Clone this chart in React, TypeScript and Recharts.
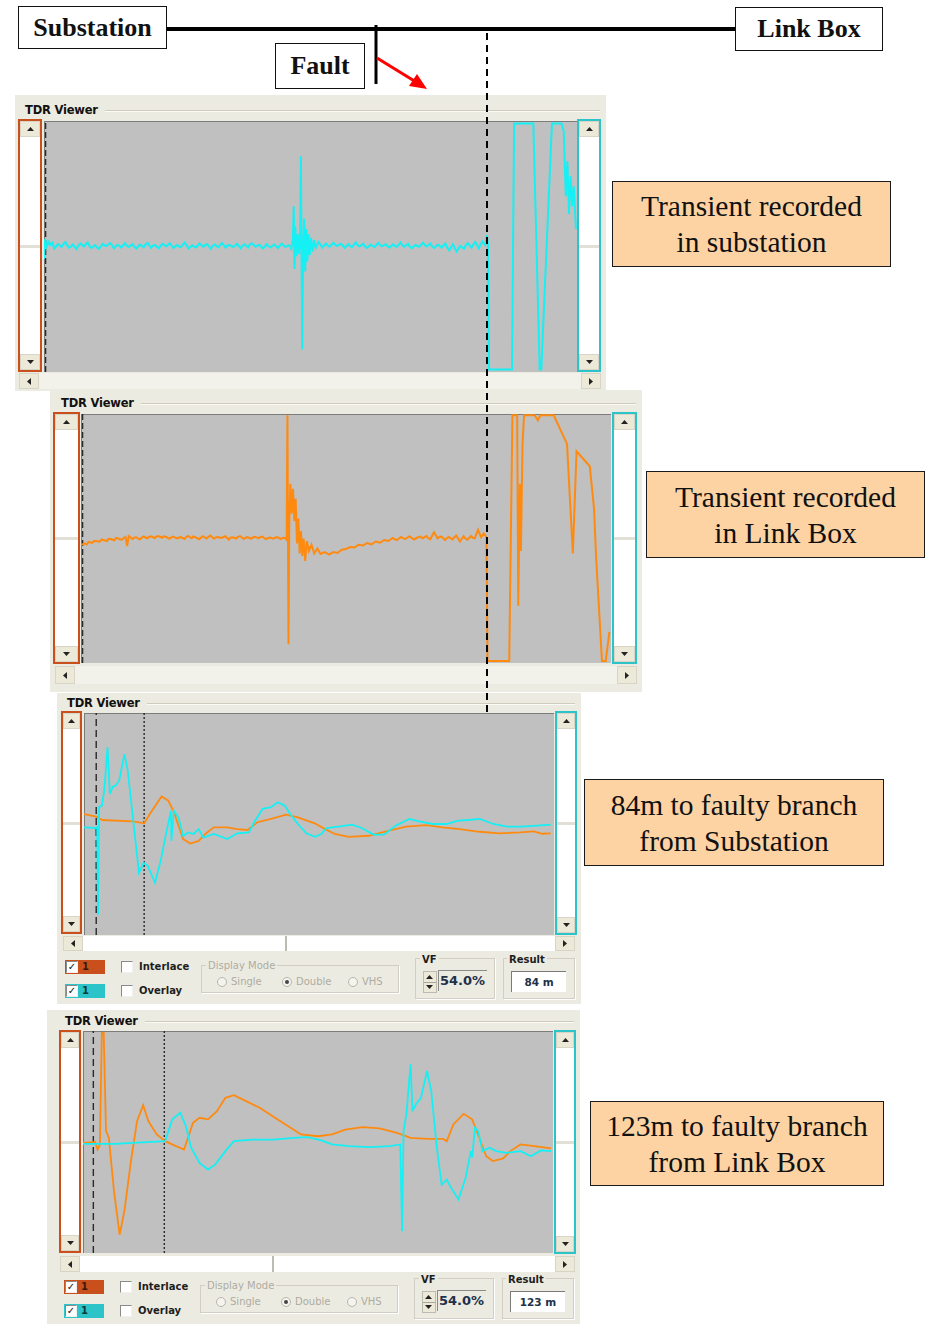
import React from 'react';
import { LineChart, Line, XAxis, YAxis, ReferenceLine } from 'recharts';

type Pt = [number, number];

// ---- waveform values: [time % of window, amplitude % of window height] ----
const P1_CYAN: Pt[] = [
  [0,45],[0.2,53],[0.5,50],[0.9,51.9],[1.2,50.6],[1.6,51.5],[1.9,49.2],[2.3,50.1],[2.6,51],[3.3,49.8],[3.6,50.9],[4,51.8],[4.4,50.3],[4.7,49.5],[5.1,50.1],[5.4,50.8],[6.1,49],[6.4,50.2],[6.8,51.2],[7.5,50],[7.8,50.8],[8.2,51.6],[8.6,49.9],[8.9,49.4],[9.6,50.6],[9.9,49.7],[10.3,49.1],[11,51],[11.4,50.4],[11.7,50.2],[12.4,51.4],[12.8,50.5],[13.1,49.3],[13.8,50.7],[14.2,50.2],[14.5,49.6],[15.2,51.3],[15.5,50.4],[15.9,49.8],[16.6,50.9],[16.9,50.1],[17.3,49.2],[18,50.8],[18.7,49.7],[19,50.6],[19.4,51.5],[20.1,49.5],[20.4,50.3],[20.8,50.6],[21.5,49.3],[22.2,51.1],[22.6,50.6],[22.9,50],[23.6,51.3],[24,50.2],[24.3,49.4],[25,50.7],[25.4,49.9],[25.7,49.8],[26.4,51.6],[26.8,50.3],[27.1,49.2],[27.8,50.5],[28.1,50],[28.5,49.6],[29.2,51.2],[29.9,49.9],[30.2,50.6],[30.6,51],[31.3,49.1],[31.6,50.1],[32,50.8],[32.7,49.7],[33,50.5],[33.4,51.4],[34.1,49.5],[34.4,50.4],[34.8,50.6],[35.5,49.8],[35.8,50.3],[36.2,51.1],[36.9,49.3],[37.2,50.2],[37.6,50.9],[38.3,49.6],[38.6,50.7],[39,51.3],[39.7,49.9],[40.4,50.7],[40.7,50],[41.1,49.2],[41.8,51],[42.1,50.2],[42.5,49.7],[43.2,50.8],[43.6,50],[43.9,49.4],[44.6,51.2],[45,50.3],[45.3,49.8],[46,50.6],
  [46.4,49],[46.7,53],[46.85,66],[47,41],[47.15,58],[47.35,46],[47.6,55],[47.85,47],[48.05,53],[48.2,86],[48.3,52],[48.45,9],[48.6,46],[48.8,61],[49,40],[49.2,57],[49.4,44],[49.6,55],[49.85,46.5],[50.1,53.5],[50.4,48],[50.7,52.5],[51,49.5],
  [51.5,51.8],[51.9,50.7],[52.2,49.6],[52.9,51.2],[53.2,50.4],[53.6,49.9],[54.3,51.5],[54.6,50.8],[55,50.2],[55.7,51.1],[56,50.5],[56.4,49.5],[57.1,50.9],[57.4,50.2],[57.8,49.8],[58.5,51.7],[58.8,50.6],[59.2,50],[59.9,51.2],[60.2,50.1],[60.6,49.4],[61.3,50.8],[61.6,50.3],[62,49.7],[62.7,51.4],[63,50.7],[63.4,50.1],[64.1,51],[64.4,50.2],[64.8,49.5],[65.5,50.9],[65.8,50.3],[66.2,49.8],[66.9,51.6],[67.2,50.6],[67.6,49.9],[68.3,51.1],[68.6,50],[69,49.3],[69.7,50.7],[70,50.2],[70.4,49.9],[71.1,51.5],[71.4,50.7],[71.8,50],[72.5,51.2],[72.8,50.1],[73.2,49.4],[73.9,50.8],[74.2,50.3],[74.6,49.6],[75.3,51.3],[75.6,49.8],[76,48.5],[76.7,50.9],[77,49.6],[77.4,48],[78.1,50.2],[78.8,49.1],[79.1,50.4],[79.5,51.4],[80.2,49.5],[80.5,50.6],[80.9,51.8],[81.6,49.2],[81.9,50.8],[82.3,52],[82.8,50.5],[83.1,54.5],[83.3,51],
  [83.5,1],[87.8,1],[88.2,99],[91.8,99],[93,1],[93.3,1],[95.3,99],[97.1,99],[97.5,96],[97.9,70],[98.2,84],[98.5,63],[98.8,78],[99.1,66],[99.4,74],[99.8,57],
];

const P2_ORANGE: Pt[] = [
  [0,47.5],[0.7,48],[1.1,47.6],[1.4,48.6],[2.1,48.2],[2.4,48.9],[2.8,49],[3.5,48.7],[3.9,49.6],[4.2,49.4],[4.9,49],[5.2,49.9],[5.6,49.8],[6.3,49.3],[6.6,50.2],[7,50],[7.7,49.5],[8.1,50.3],[8.4,50.6],[8.7,47],[9,51],[9.7,49.8],[10,50.3],[10.4,50.5],[11.1,49.6],[11.5,50.4],[11.8,50.8],[12.5,50.1],[12.8,50.6],[13.2,50.9],[13.9,50.2],[14.2,50.7],[14.6,51],[15.3,50.3],[15.6,50.9],[16,50.7],[16.7,49.9],[17,50.4],[17.4,50.8],[18.1,50],[18.4,50.3],[18.8,50.6],[19.5,49.8],[19.8,50.5],[20.2,51],[20.9,50.1],[21.2,50.8],[21.6,50.5],[22.3,49.7],[22.6,50.3],[23,50.9],[23.7,50],[24,50.6],[24.4,51.2],[25.1,49.9],[25.4,50.4],[25.8,50.6],[26.5,50.2],[26.8,50.5],[27.2,50.9],[27.9,49.6],[28.2,50.3],[28.6,50.5],[29.3,50],[29.6,50.7],[30,51],[30.7,49.8],[31,50.2],[31.4,50.6],[32.1,49.9],[32.4,50.4],[32.8,50.7],[33.5,50.1],[33.8,50.5],[34.2,50.8],[34.9,49.7],[35.2,50.1],[35.6,50.4],[36.3,49.9],[36.6,50.3],[37,50.6],[37.7,49.8],[38,50.2],[38.4,50.3],[38.8,49.5],
  [38.95,99.5],[39.05,50],[39.15,7.5],[39.3,56],[39.5,72],[39.75,60],[40,70],[40.25,57],[40.5,66],[40.75,48],[41,58],[41.25,44],[41.5,53],[41.75,43],[42,50],[42.3,41],[42.6,49],[43,45],[43.5,47.5],[44,44],[44.6,46],[45.2,43.8],[46,44.5],[46.8,43.5],[47.6,44.6],[48.4,44.2],[49.2,45.5],[50,45.8],[50.8,46.6],[51.6,46.4],[52.4,47.5],[53.2,47.2],[54,48.2],[54.8,47.6],[55.6,48.8],[56.4,48.3],[57.2,49.4],[58,49],[58.8,50.2],[59.2,49.7],[59.6,49.4],[60.4,50.6],[60.8,50.1],[61.2,49.8],[62,50.9],[62.4,50.2],[62.8,49.6],[63.6,50.5],[64,50.8],[64.4,50.1],[65.2,51],[65.5,50.2],[65.9,49.7],[66.6,52.5],[67.3,50],[67.6,50.6],[68,50.8],[68.7,49.4],[69,50.1],[69.4,50.6],[70.1,49.6],[70.4,50.4],[70.8,51.2],[71.5,48.8],[72.2,50.9],[72.5,50.1],[72.9,49.5],[73.6,51],[73.9,50.3],[74.3,50.1],[74.9,53.5],[75.5,50.5],[76,52],[76.5,50.5],
  [76.7,0.8],[80.8,0.8],[81.4,99.5],[82.3,99.5],[82.5,23],[82.8,72],[83,45],[83.3,88],[83.6,99.5],[85.6,99.5],[86.2,97.5],[86.7,99.5],[89.2,99.5],[91.7,88],[92.8,44],[93.5,85],[96,79],[96.8,62],[97.2,42],[98.3,0.8],[99,0.8],[99.7,12.5],
];

const P3_ORANGE: Pt[] = [
  [0,54.5],[2.65,53.3],[3.9,51.8],[10.4,51.2],[12.8,50.3],[14,54.5],[16.5,62.4],[17.9,60.6],[19,56],[21.1,43.2],[22.6,41.2],[24.4,42.4],[25.8,45.5],[27.6,48.5],[30.5,48.5],[32.6,47.7],[34.8,47.3],[36.9,50.8],[39.8,52.3],[43,54.2],[45.5,53],[49.1,50.3],[51.3,47.7],[53.4,45.5],[56.3,44.2],[60.6,44.7],[64.9,47],[68.5,48.8],[72.8,49.5],[76.3,48.5],[79.9,47.7],[84.2,46.5],[88.5,45.8],[92.8,46.2],[95.7,46.7],[97.5,45.6],[99.3,45.8],
];

const P3_CYAN: Pt[] = [
  [0,48.5],[2.4,48.2],[2.8,48.5],[3,9.1],[3.2,57.6],[3.8,58.3],[4.3,65],[5,84.5],[5.5,63.6],[6.1,66.7],[6.8,67.4],[7.5,69.7],[8.6,81.5],[9.3,74.2],[10.4,53],[11.7,28],[12.7,32.6],[13.6,31],[15.1,23.5],[16.3,33.3],[17.6,47],[18.5,56],[18.6,42.4],[19.1,56],[20.1,53],[21.1,44.7],[22.2,46.2],[23.3,45.5],[24.4,47.7],[25.4,43.9],[27.6,45.5],[30.5,43.2],[32.6,45.8],[35.1,46.2],[36.2,50.8],[38,56.8],[39.8,57.6],[41.2,59.8],[42.7,58.3],[44.1,53.8],[45.5,50],[47.3,45.8],[49.1,44.2],[50.5,45.5],[51.6,48.2],[54.1,48.8],[57,49.7],[59.1,48.2],[61.6,45.2],[63.8,45.2],[66.3,49.2],[69.2,52.3],[71.3,51.2],[74.2,50],[77.1,50],[79.6,51.5],[81.7,51.8],[84.2,52.3],[87.1,50],[90,48.8],[92.8,48.8],[95.7,49.2],[99.3,49.7],
];

const P4_ORANGE: Pt[] = [
  [0,49.6],[2.6,50],[3.1,46.6],[3.6,48.9],[4,99.2],[4.4,99.2],[4.9,55],[5.5,51.9],[6.6,27.8],[7.8,8.3],[8.8,18.8],[10.2,41.4],[11.5,59.4],[12.8,66.6],[13.9,59.4],[15.7,53.4],[17.5,50.4],[19.3,48.6],[21.5,46.6],[23.4,58.6],[24.8,60.9],[26.6,60.2],[28.5,63.9],[30.3,69.9],[32.1,71.1],[34.7,68.4],[37.6,65.4],[42,59.4],[46.4,53.4],[50,52.6],[53,53.4],[55.8,55.6],[59.5,56.7],[63.1,56.1],[66.8,54.1],[69.7,51.9],[73.4,51.4],[76.6,51.4],[77.4,50.4],[78.8,57.9],[81,62.7],[82.8,60.2],[84.3,51.9],[85.8,43.6],[87.2,41.4],[89.4,42.6],[90.9,45.9],[93.1,48.9],[96,48.1],[99.6,47.1],
];

const P4_CYAN: Pt[] = [
  [0,49.2],[6.9,49.2],[10.6,49.6],[17.5,50.4],[19,60.2],[20.7,63.2],[21.9,57.1],[23,47.4],[24.8,40.6],[26.6,37.6],[28.1,39.8],[30.3,45.9],[32.1,50.4],[36.1,51.1],[40.5,51.1],[44.9,51.9],[47.8,52.2],[50.7,50.7],[53,48.9],[56.6,48.1],[60.9,47.7],[65.3,48.1],[67.5,48.9],[67.9,9.8],[68.2,54.9],[68.8,62.4],[69.7,85],[70.1,63.9],[70.8,66.9],[71.9,69.9],[73.2,82],[74.1,72.9],[75.2,48.9],[76.3,30.8],[77.4,33.1],[78.1,30.1],[79.9,24.1],[81.4,33.8],[82.5,45.9],[82.8,42.9],[83.4,56.4],[84.1,54.9],[85,45.9],[86.5,47.4],[87.9,45.9],[90.1,45.1],[93.1,45.9],[95.3,43.6],[97.4,46.2],[99.6,45.9],
];

const P3_CURSOR_DASHED = 2.6;
const P3_CURSOR_DOTTED = 12.8;
const P4_CURSOR_DASHED = 2.2;
const P4_CURSOR_DOTTED = 17.3;

const CALLOUT_TEXTS: string[][] = [
  ['Transient recorded', 'in substation'],
  ['Transient recorded', 'in Link Box'],
  ['84m to faulty branch', 'from Substation'],
  ['123m to faulty branch', 'from Link Box'],
];
const RESULT_TEXTS = ['84 m', '123 m'];
const VF_TEXT = '54.0%';
const DIAGRAM_LABELS = { left: 'Substation', right: 'Link Box', fault: 'Fault' };

// ---- styling ----
const ORANGE = '#ff8a10';
const CYAN = '#14f0f4';
const BOX_ORANGE = '#c9501c';
const BOX_CYAN = '#2cc4c8';
const PANEL_BG = '#ecebe1';
const BTN_BG = '#ece9d8';
const PLOT_GRAY = '#c0c0c0';
const UI_FONT = '"DejaVu Sans", Verdana, sans-serif';
const SERIF = '"Liberation Serif", "Times New Roman", serif';

const toData = (pts: Pt[]) => pts.map(([x, y]) => ({ x, y }));

type Rect = { x: number; y: number; w: number; h: number };

function Arrow({ dir }: { dir: 'up' | 'down' | 'left' | 'right' }) {
  const pts =
    dir === 'up' ? '0,4 7,4 3.5,0' : dir === 'down' ? '0,0 7,0 3.5,4' : dir === 'left' ? '4,0 4,7 0,3.5' : '0,0 0,7 4,3.5';
  const w = dir === 'up' || dir === 'down' ? 7 : 4;
  const h = dir === 'up' || dir === 'down' ? 4 : 7;
  return (
    <svg width={w} height={h} style={{ display: 'block' }}>
      <polygon points={pts} fill="#222" />
    </svg>
  );
}

const btnStyle: React.CSSProperties = {
  position: 'absolute',
  background: BTN_BG,
  display: 'flex',
  alignItems: 'center',
  justifyContent: 'center',
  boxSizing: 'border-box',
  border: '1px solid #d8d4c6',
};

function VScroll({ r, color }: { r: Rect; color: string }) {
  return (
    <div
      style={{
        position: 'absolute', left: r.x, top: r.y, width: r.w, height: r.h,
        boxSizing: 'border-box', border: `2px solid ${color}`, background: '#fff',
      }}
    >
      <div style={{ ...btnStyle, left: 0, right: 0, top: 0, height: 16 }}><Arrow dir="up" /></div>
      <div style={{ position: 'absolute', left: 0, right: 0, top: '50%', height: 3, marginTop: -1, background: '#e2e0d6' }} />
      <div style={{ ...btnStyle, left: 0, right: 0, bottom: 0, height: 16 }}><Arrow dir="down" /></div>
    </div>
  );
}

function HScroll({ r, track, thumb }: { r: Rect; track: string; thumb?: number }) {
  return (
    <div style={{ position: 'absolute', left: r.x, top: r.y, width: r.w, height: r.h, background: track }}>
      <div style={{ ...btnStyle, left: 0, top: 0, bottom: 0, width: 20 }}><Arrow dir="left" /></div>
      {thumb !== undefined && (
        <div style={{ position: 'absolute', left: thumb - r.x, top: 0, bottom: 0, width: 2, background: '#bdbab0' }} />
      )}
      <div style={{ ...btnStyle, right: 0, top: 0, bottom: 0, width: 20 }}><Arrow dir="right" /></div>
    </div>
  );
}

type Series = { pts: Pt[]; color: string; width?: number };
type Cursor = { x: number; dash: string };

function Scope({ r, series, cursors }: { r: Rect; series: Series[]; cursors: Cursor[] }) {
  return (
    <div
      style={{
        position: 'absolute', left: r.x, top: r.y, width: r.w, height: r.h, background: PLOT_GRAY,
        boxShadow: 'inset 1px 1px 0 #7c7c7c',
      }}
    >
      <LineChart width={r.w} height={r.h} margin={{ top: 0, right: 0, bottom: 0, left: 0 }}>
        <XAxis type="number" dataKey="x" domain={[0, 100]} hide />
        <YAxis type="number" domain={[0, 100]} hide />
        {cursors.map((c, i) => (
          <ReferenceLine key={'c' + i} x={c.x} stroke="#2a2a2a" strokeWidth={1.4} strokeDasharray={c.dash} />
        ))}
        {series.map((s, i) => (
          <Line
            key={'s' + i}
            data={toData(s.pts)}
            dataKey="y"
            type="linear"
            stroke={s.color}
            strokeWidth={s.width ?? 1.8}
            dot={false}
            isAnimationActive={false}
          />
        ))}
      </LineChart>
    </div>
  );
}

type PanelSpec = {
  outer: Rect;
  title: { x: number; y: number };
  left: Rect;
  plot: Rect;
  right: Rect;
  hscroll: Rect;
  hTrack: string;
  thumb?: number;
};

function PanelFrame({ p, children }: { p: PanelSpec; children?: React.ReactNode }) {
  return (
    <>
      <div style={{ position: 'absolute', left: p.outer.x, top: p.outer.y, width: p.outer.w, height: p.outer.h, background: PANEL_BG }} />
      <div
        style={{
          position: 'absolute', left: p.title.x + 80, top: p.title.y + 7, width: p.outer.x + p.outer.w - p.title.x - 86,
          height: 1, background: '#cfccbe', borderBottom: '1px solid #fbfbf6',
        }}
      />
      <div
        style={{
          position: 'absolute', left: p.title.x, top: p.title.y, fontFamily: UI_FONT, fontWeight: 700,
          fontSize: 11.5, lineHeight: '14px', color: '#111', whiteSpace: 'nowrap', letterSpacing: -0.2,
        }}
      >
        TDR Viewer
      </div>
      <VScroll r={p.left} color={BOX_ORANGE} />
      <VScroll r={p.right} color={BOX_CYAN} />
      <HScroll r={p.hscroll} track={p.hTrack} thumb={p.thumb} />
      {children}
    </>
  );
}

function CheckBox({ x, y, checked }: { x: number; y: number; checked?: boolean }) {
  return (
    <div
      style={{
        position: 'absolute', left: x, top: y, width: 12, height: 12, background: '#fff', boxSizing: 'border-box',
        borderTop: '1px solid #8a8a8a', borderLeft: '1px solid #8a8a8a', borderRight: '1px solid #f0f0f0',
        borderBottom: '1px solid #f0f0f0', fontSize: 10, lineHeight: '10px', textAlign: 'center', color: '#111',
        fontFamily: UI_FONT, fontWeight: 700,
      }}
    >
      {checked ? '✓' : ''}
    </div>
  );
}

function Label({ x, y, text, size = 10, bold = true, color = '#1d1d1d' }: { x: number; y: number; text: string; size?: number; bold?: boolean; color?: string }) {
  return (
    <div
      style={{
        position: 'absolute', left: x, top: y, fontFamily: UI_FONT, fontWeight: bold ? 700 : 400, fontSize: size,
        lineHeight: `${size + 3}px`, color, whiteSpace: 'nowrap',
      }}
    >
      {text}
    </div>
  );
}

function Radio({ x, y, on }: { x: number; y: number; on?: boolean }) {
  return (
    <div
      style={{
        position: 'absolute', left: x, top: y, width: 10, height: 10, borderRadius: 6, border: '1px solid #b8b6ac',
        background: '#f4f3ee', boxSizing: 'border-box', display: 'flex', alignItems: 'center', justifyContent: 'center',
      }}
    >
      {on && <div style={{ width: 4, height: 4, borderRadius: 2, background: '#444' }} />}
    </div>
  );
}

function Legend({ x, y, text, bold = true, color = '#1d1d1d' }: { x: number; y: number; text: string; bold?: boolean; color?: string }) {
  return (
    <div style={{ position: 'absolute', left: x, top: y, background: PANEL_BG, padding: '0 2px', lineHeight: '12px' }}>
      <span style={{ fontFamily: UI_FONT, fontSize: 10, fontWeight: bold ? 700 : 400, color, whiteSpace: 'nowrap' }}>{text}</span>
    </div>
  );
}

function Controls({ dx, dy, result }: { dx: number; dy: number; result: string }) {
  const X = (v: number) => v + dx;
  const Y = (v: number) => v + dy;
  const group: React.CSSProperties = { position: 'absolute', boxSizing: 'border-box', border: '1px solid #d2cfc2', boxShadow: '1px 1px 0 #fff' };
  const gray = '#aeaca2';
  return (
    <>
      <div style={{ position: 'absolute', left: X(65), top: Y(960), width: 40, height: 14, background: BOX_ORANGE }} />
      <CheckBox x={X(66)} y={Y(961)} checked />
      <Label x={X(82)} y={Y(960)} text="1" size={10} color="#3a1a08" />
      <div style={{ position: 'absolute', left: X(65), top: Y(984), width: 40, height: 14, background: BOX_CYAN }} />
      <CheckBox x={X(66)} y={Y(985)} checked />
      <Label x={X(82)} y={Y(984)} text="1" size={10} color="#0a3a3a" />

      <CheckBox x={X(121)} y={Y(961)} />
      <Label x={X(139)} y={Y(960)} text="Interlace" />
      <CheckBox x={X(121)} y={Y(985)} />
      <Label x={X(139)} y={Y(984)} text="Overlay" />

      <div style={{ ...group, left: X(201), top: Y(965), width: 198, height: 28 }} />
      <Legend x={X(206)} y={Y(958)} text="Display Mode" bold={false} color={gray} />
      <Radio x={X(217)} y={Y(977)} />
      <Label x={X(231)} y={Y(975)} text="Single" bold={false} color={gray} />
      <Radio x={X(282)} y={Y(977)} on />
      <Label x={X(296)} y={Y(975)} text="Double" bold={false} color={gray} />
      <Radio x={X(348)} y={Y(977)} />
      <Label x={X(362)} y={Y(975)} text="VHS" bold={false} color={gray} />

      <div style={{ ...group, left: X(415), top: Y(958), width: 80, height: 41 }} />
      <Legend x={X(420)} y={Y(952)} text="VF" />
      <div style={{ position: 'absolute', left: X(423), top: Y(971), width: 14, height: 22, background: BTN_BG, boxSizing: 'border-box', border: '1px solid #bdbab0' }}>
        <div style={{ position: 'absolute', left: 2, top: 3 }}><Arrow dir="up" /></div>
        <div style={{ position: 'absolute', left: 0, right: 0, top: 10, height: 1, background: '#a8a59a' }} />
        <div style={{ position: 'absolute', left: 2, top: 13 }}><Arrow dir="down" /></div>
      </div>
      <div style={{ position: 'absolute', left: X(438), top: Y(970), width: 48, height: 20, borderTop: '1px solid #8a8a8a', borderLeft: '1px solid #8a8a8a' }} />
      <Label x={X(440)} y={Y(973)} text={VF_TEXT} size={13} color="#22304a" />

      <div style={{ ...group, left: X(503), top: Y(958), width: 72, height: 41 }} />
      <Legend x={X(507)} y={Y(952)} text="Result" />
      <div
        style={{
          position: 'absolute', left: X(511), top: Y(971), width: 55, height: 21, background: '#fff', boxSizing: 'border-box',
          borderTop: '1px solid #7a7a7a', borderLeft: '1px solid #7a7a7a', display: 'flex', alignItems: 'center', justifyContent: 'center',
          fontFamily: UI_FONT, fontWeight: 700, fontSize: 10.5, color: '#22304a',
        }}
      >
        {result}
      </div>
    </>
  );
}

function Callout({ r, lines }: { r: Rect; lines: string[] }) {
  return (
    <div
      style={{
        position: 'absolute', left: r.x, top: r.y, width: r.w, height: r.h, boxSizing: 'border-box',
        border: '1.5px solid #1a1a1a', background: '#fdd3a4', display: 'flex', flexDirection: 'column',
        alignItems: 'center', justifyContent: 'center', fontFamily: SERIF, fontSize: 29.5, lineHeight: '36px', color: '#111',
      }}
    >
      {lines.map((l, i) => (
        <div key={i} style={{ whiteSpace: 'nowrap' }}>{l}</div>
      ))}
    </div>
  );
}

function DiagramBox({ r, text }: { r: Rect; text: string }) {
  return (
    <div
      style={{
        position: 'absolute', left: r.x, top: r.y, width: r.w, height: r.h, boxSizing: 'border-box', border: '1.5px solid #111',
        background: '#fff', display: 'flex', alignItems: 'center', justifyContent: 'center', fontFamily: SERIF, fontWeight: 700,
        fontSize: 26, color: '#111', zIndex: 6,
      }}
    >
      {text}
    </div>
  );
}

const PANELS: PanelSpec[] = [
  {
    outer: { x: 15, y: 95, w: 591, h: 296 }, title: { x: 25, y: 103 },
    left: { x: 18, y: 119, w: 24, h: 253 }, plot: { x: 44, y: 121, w: 533, h: 251 },
    right: { x: 577, y: 119, w: 24, h: 253 }, hscroll: { x: 19, y: 373, w: 582, h: 16 }, hTrack: '#f3f2ea',
  },
  {
    outer: { x: 50, y: 390, w: 592, h: 302 }, title: { x: 61, y: 396 },
    left: { x: 53, y: 412, w: 27, h: 252 }, plot: { x: 81, y: 414, w: 530, h: 249 },
    right: { x: 612, y: 412, w: 25, h: 252 }, hscroll: { x: 55, y: 666, w: 582, h: 18 }, hTrack: '#f3f2ea',
  },
  {
    outer: { x: 57, y: 693, w: 524, h: 311 }, title: { x: 67, y: 696 },
    left: { x: 61, y: 711, w: 21, h: 223 }, plot: { x: 84, y: 713, w: 470, h: 222 },
    right: { x: 555, y: 711, w: 22, h: 224 }, hscroll: { x: 63, y: 936, w: 512, h: 15 }, hTrack: '#ffffff', thumb: 285,
  },
  {
    outer: { x: 47, y: 1010, w: 533, h: 314 }, title: { x: 65, y: 1014 },
    left: { x: 59, y: 1030, w: 22, h: 223 }, plot: { x: 83, y: 1031, w: 470, h: 222 },
    right: { x: 554, y: 1030, w: 22, h: 224 }, hscroll: { x: 60, y: 1256, w: 515, h: 16 }, hTrack: '#ffffff', thumb: 272,
  },
];

const CALLOUT_RECTS: Rect[] = [
  { x: 612, y: 181, w: 279, h: 86 },
  { x: 646, y: 471, w: 279, h: 87 },
  { x: 584, y: 779, w: 300, h: 87 },
  { x: 590, y: 1101, w: 294, h: 85 },
];

export default function App() {
  const edgeCursor = [{ x: 0.3, dash: '6 3' }];
  return (
    <div style={{ position: 'absolute', left: 0, top: 0, width: 932, height: 1324, background: '#fff', overflow: 'hidden' }}>
      <PanelFrame p={PANELS[0]}>
        <Scope r={PANELS[0].plot} series={[{ pts: P1_CYAN, color: CYAN, width: 2 }]} cursors={edgeCursor} />
      </PanelFrame>
      <PanelFrame p={PANELS[1]}>
        <Scope r={PANELS[1].plot} series={[{ pts: P2_ORANGE, color: ORANGE, width: 2 }]} cursors={edgeCursor} />
      </PanelFrame>
      <PanelFrame p={PANELS[2]}>
        <Scope
          r={PANELS[2].plot}
          series={[{ pts: P3_ORANGE, color: ORANGE }, { pts: P3_CYAN, color: CYAN }]}
          cursors={[{ x: P3_CURSOR_DASHED, dash: '7 4' }, { x: P3_CURSOR_DOTTED, dash: '2 2' }]}
        />
        <Controls dx={0} dy={0} result={RESULT_TEXTS[0]} />
      </PanelFrame>
      <PanelFrame p={PANELS[3]}>
        <Scope
          r={PANELS[3].plot}
          series={[{ pts: P4_ORANGE, color: ORANGE }, { pts: P4_CYAN, color: CYAN }]}
          cursors={[{ x: P4_CURSOR_DASHED, dash: '7 4' }, { x: P4_CURSOR_DOTTED, dash: '2 2' }]}
        />
        <Controls dx={-1} dy={320} result={RESULT_TEXTS[1]} />
      </PanelFrame>

      {CALLOUT_RECTS.map((r, i) => (
        <Callout key={i} r={r} lines={CALLOUT_TEXTS[i]} />
      ))}

      <svg width={932} height={1324} style={{ position: 'absolute', left: 0, top: 0, pointerEvents: 'none', zIndex: 5 }}>
        <line x1={166} y1={29} x2={735} y2={29} stroke="#000" strokeWidth={4} />
        <line x1={376} y1={25} x2={376} y2={84} stroke="#000" strokeWidth={3} />
        <line x1={377} y1={58} x2={416} y2={82} stroke="#ff0000" strokeWidth={3} />
        <polygon points="427,89 409,86 417,74" fill="#ff0000" />
        <line x1={487} y1={33} x2={487} y2={712} stroke="#000" strokeWidth={2} strokeDasharray="7 5" />
      </svg>

      <DiagramBox r={{ x: 18, y: 6, w: 149, h: 43 }} text={DIAGRAM_LABELS.left} />
      <DiagramBox r={{ x: 735, y: 7, w: 148, h: 44 }} text={DIAGRAM_LABELS.right} />
      <DiagramBox r={{ x: 275, y: 43, w: 90, h: 46 }} text={DIAGRAM_LABELS.fault} />
    </div>
  );
}
